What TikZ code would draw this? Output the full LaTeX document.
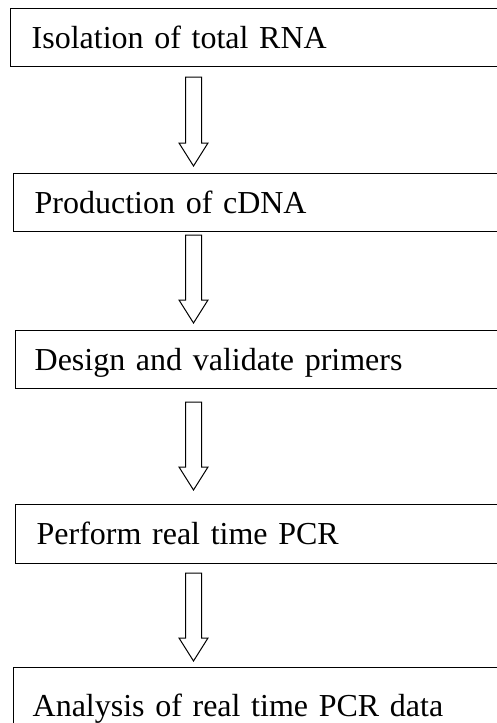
\documentclass[tikz,border=0pt]{standalone}
\usepackage{fontspec}
\setmainfont{Liberation Serif}
\usetikzlibrary{calc}
\newcommand\boxfont{\fontsize{32}{38}\selectfont\spaceskip=7pt plus 2pt minus 1pt\relax}
\begin{document}
\begin{tikzpicture}[x=1pt,y=-1pt,
  stepbox/.style={draw, line width=1.3pt, anchor=north west, minimum height=58pt,
    text width=500pt, align=left, inner xsep=0pt, text height=21pt, text depth=0pt,
    font=\boxfont},
  blockarrow/.style={draw, line width=1pt, fill=white, line join=miter}]
\useasboundingbox (0,0) rectangle (497,723);
\clip (0,0) rectangle (497,723);
\node[stepbox] (b1) at (10,8) {\hspace*{21pt}Isolation of total RNA};
\node[stepbox] (b2) at (13,173) {\hspace*{21pt}Production of cDNA};
\node[stepbox] (b3) at (15,330) {\hspace*{19pt}Design and validate primers};
\node[stepbox, minimum height=59pt] (b4) at (15,504) {\hspace*{21pt}Perform real time PCR};
\node[stepbox, minimum height=77pt] (b5) at (13,667) {\hspace*{19pt}Analysis of real time PCR data};
\foreach \i/\t/\e in {1/77/166, 2/235/323, 3/402/490, 4/573/661}{
  \coordinate (s\i) at (193.5,\t);
  \coordinate (e\i) at (193.5,\e);
  \draw[blockarrow] ($(s\i)+(-8,0)$) -- ($(s\i)+(8,0)$) -- ($(e\i)+(8,-23)$) -- ($(e\i)+(14.5,-23)$)
    -- (e\i) -- ($(e\i)+(-14.5,-23)$) -- ($(e\i)+(-8,-23)$) -- cycle;
}
\end{tikzpicture}
\end{document}
